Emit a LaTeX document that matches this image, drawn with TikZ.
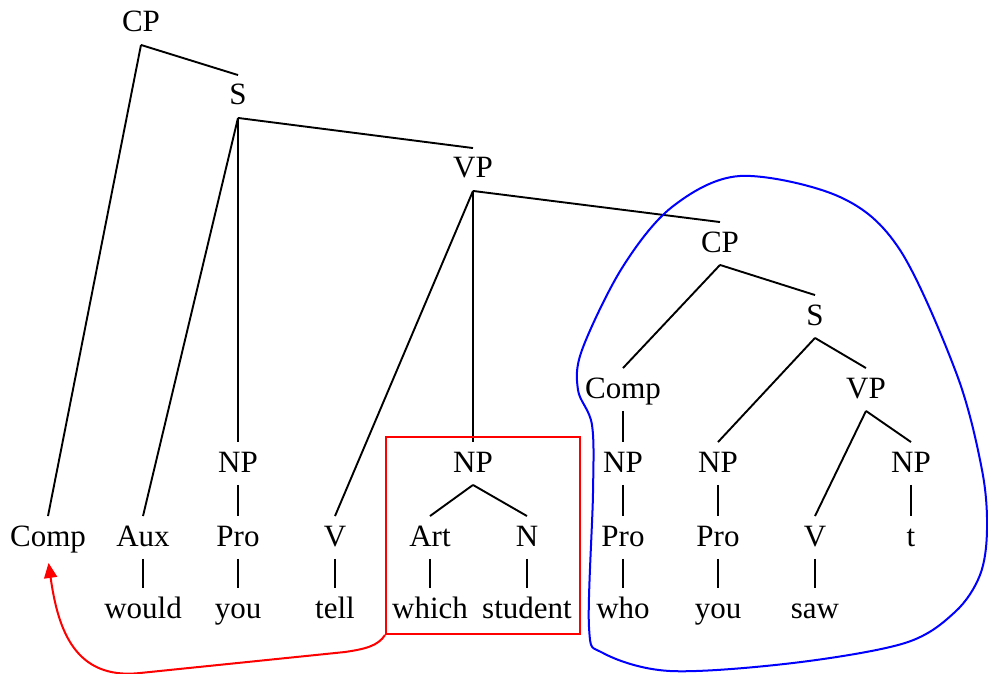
\documentclass[tikz,border=0pt]{standalone}
\usepackage{fontspec}
\setmainfont{Liberation Serif}
\usetikzlibrary{arrows.meta}

\begin{document}
\begin{tikzpicture}[x=1pt,y=-1pt,line width=1.9pt,
  cat/.style={anchor=base,inner sep=6pt,text height=23pt,text depth=6pt,font=\fontsize{31}{37}\selectfont},
  grp/.style n args={3}{draw=#1,line width=2pt,rectangle,inner sep=0pt,minimum width=#2pt,minimum height=#3pt}]
\useasboundingbox (0,0) rectangle (988,674);
% upper part of the tree
\node[cat] (cp) at (141,32) {CP};
\node[cat] (s) at (238,105) {S};
\node[cat] (vp) at (473,178) {VP};
\node[cat] (cpb) at (720,252) {CP};
\node[cat] (sb) at (815,325) {S};
\node[cat] (compb) at (623,398) {Comp};
\node[cat] (vpb) at (866,398) {VP};
% NP row
\foreach \n/\x in {np1/238,np2/473,np3/623,np4/718,np5/911} {
   \node[cat] (\n) at (\x,472) {NP};
}
% preterminals
\foreach \n/\x/\t in %
{comp/48/Comp,aux/143/Aux,pro1/238/Pro,v1/335/V,art/430/Art,n/527/N,pro2/623/Pro,pro3/718/Pro,v2/815/V,t/911/t} {
   \node[cat] (\n) at (\x,546) {\t};
}
% words
\foreach \n/\x/\t in %
{w1/143/would,w2/238/you,w3/335/tell,w4/430/which,w5/527/student,w6/623/who,w7/718/you,w8/815/saw} {
   \node[cat] (\n) at (\x,618) {\t};
}
% branches
\foreach \a/\b in %
{cp/comp,cp/s,s/aux,s/np1,s/vp,np1/pro1,vp/v1,vp/np2,vp/cpb,np2/art,np2/n,cpb/compb,cpb/sb,compb/np3,np3/pro2,sb/np4,sb/vpb,np4/pro3,vpb/v2,vpb/np5,np5/t,aux/w1,pro1/w2,v1/w3,art/w4,n/w5,pro2/w6,pro3/w7,v2/w8} {
   \draw (\a.south) -- (\b.north);
}
% moved phrase and its landing site
\node[grp={red}{194}{197}] (box) at (483,535.5) {};
\draw[red,line width=2pt,-{Triangle[length=15pt,width=13pt]},shorten >=4pt] (box.south west)
   .. controls (378,646) and (365,649) .. (345,652) -- (140,673)
   .. controls (75,680) and (58,630) .. (comp.south);
% embedded clause
\draw[blue,line width=2pt] plot[smooth cycle,tension=0.55] coordinates {
   (740,176) (672,207) (622,268) (582,350) (578,390) (592,425) (593,493) (589,627)
   (603,653) (670,671) (793,663) (905,643) (955,612) (980,575) (987,530) (982,470)
   (957,375) (900,250) (840,197)};
\end{tikzpicture}
\end{document}
